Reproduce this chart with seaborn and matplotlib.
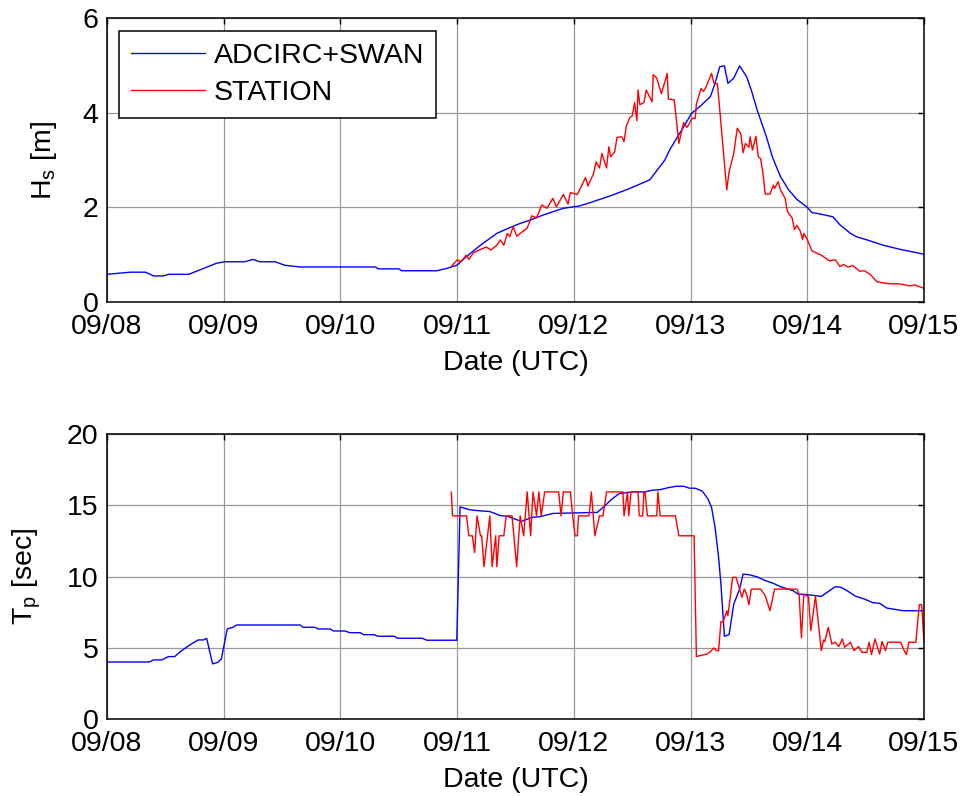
import matplotlib
matplotlib.use("Agg")
import matplotlib.pyplot as plt
import seaborn as sns

# Time axis: days since 09/08 00:00 UTC
date_labels = ["09/08", "09/09", "09/10", "09/11", "09/12", "09/13", "09/14", "09/15"]

# Significant wave height, ADCIRC+SWAN model
hs_model_day = [0.00, 0.20, 0.33, 0.40, 0.48, 0.53, 0.70, 0.94, 1.01, 1.18,
                1.25, 1.31, 1.44, 1.525, 1.65, 2.30, 2.325, 2.50, 2.525, 2.825,
                2.91, 3.00, 3.08, 3.20, 3.34, 3.45, 3.54, 3.625, 3.74, 3.91,
                4.05, 4.14, 4.31, 4.48, 4.65, 4.78, 4.82, 4.94, 5.01, 5.08,
                5.17, 5.21, 5.25, 5.29, 5.32, 5.37, 5.42, 5.48, 5.52, 5.57,
                5.65, 5.70, 5.77, 5.84, 5.91, 6.00, 6.04, 6.11, 6.22, 6.28,
                6.37, 6.42, 6.54, 6.65, 6.80, 7.00]
hs_model = [0.585, 0.63, 0.63, 0.55, 0.55, 0.585, 0.585, 0.82, 0.85, 0.85,
            0.90, 0.85, 0.85, 0.775, 0.74, 0.74, 0.70, 0.70, 0.66, 0.66,
            0.71, 0.78, 0.96, 1.20, 1.45, 1.57, 1.66, 1.73, 1.84, 1.98,
            2.03, 2.10, 2.24, 2.40, 2.58, 3.00, 3.21, 3.70, 3.99, 4.13,
            4.34, 4.62, 4.97, 4.99, 4.62, 4.73, 4.99, 4.76, 4.48, 4.06,
            3.49, 3.07, 2.65, 2.37, 2.17, 2.00, 1.89, 1.86, 1.80, 1.63,
            1.45, 1.38, 1.29, 1.20, 1.11, 1.01]

# Significant wave height, buoy station
hs_station_day = [2.95, 3.00, 3.03, 3.08, 3.10, 3.14, 3.20, 3.25, 3.29, 3.34,
                  3.37, 3.40, 3.43, 3.45, 3.48, 3.51, 3.60, 3.64, 3.68, 3.725,
                  3.77, 3.82, 3.85, 3.91, 3.95, 3.97, 4.03, 4.10, 4.12, 4.17,
                  4.19, 4.22, 4.24, 4.28, 4.30, 4.315, 4.35, 4.37, 4.41, 4.43,
                  4.45, 4.48, 4.50, 4.52, 4.54, 4.55, 4.565, 4.60, 4.62, 4.67,
                  4.68, 4.71, 4.75, 4.80, 4.81, 4.86, 4.90, 4.94, 4.97, 4.99,
                  5.01, 5.04, 5.05, 5.09, 5.11, 5.13, 5.18, 5.20, 5.23, 5.25,
                  5.31, 5.33, 5.37, 5.40, 5.43, 5.45, 5.47, 5.50, 5.51, 5.53,
                  5.56, 5.58, 5.60, 5.62, 5.64, 5.68, 5.71, 5.72, 5.75, 5.77,
                  5.81, 5.83, 5.87, 5.89, 5.91, 5.94, 5.96, 5.97, 6.00, 6.04,
                  6.12, 6.19, 6.24, 6.28, 6.31, 6.35, 6.39, 6.45, 6.49, 6.54,
                  6.595, 6.68, 6.80, 6.88, 6.92, 7.00]
hs_station = [0.75, 0.89, 0.85, 0.99, 0.90, 1.04, 1.11, 1.16, 1.10, 1.20,
              1.31, 1.20, 1.45, 1.38, 1.59, 1.39, 1.56, 1.82, 1.78, 2.05,
              1.98, 2.19, 2.01, 2.27, 2.07, 2.31, 2.27, 2.63, 2.45, 2.72,
              2.96, 2.83, 3.14, 2.83, 3.28, 3.07, 3.17, 3.48, 3.49, 3.39,
              3.72, 3.90, 3.93, 4.21, 3.83, 4.48, 4.17, 4.21, 4.48, 4.23,
              4.80, 4.73, 4.40, 4.83, 4.29, 4.27, 3.35, 3.79, 3.69, 3.77,
              3.88, 3.88, 4.19, 4.51, 4.45, 4.53, 4.83, 4.62, 4.61, 4.06,
              2.37, 2.75, 3.14, 3.67, 3.56, 3.15, 3.35, 3.27, 3.49, 3.21,
              3.50, 3.07, 3.03, 2.72, 2.28, 2.28, 2.47, 2.40, 2.54, 2.37,
              2.19, 1.91, 1.78, 1.53, 1.62, 1.50, 1.32, 1.45, 1.32, 1.08,
              0.99, 0.87, 0.89, 0.75, 0.79, 0.74, 0.77, 0.65, 0.66, 0.58,
              0.43, 0.39, 0.38, 0.34, 0.36, 0.29]

# Peak wave period, ADCIRC+SWAN model
tp_model_day = [0.00, 0.36, 0.40, 0.47, 0.525, 0.58, 0.625, 0.71, 0.78, 0.825,
                0.854, 0.905, 0.95, 0.98, 1.03, 1.08, 1.11, 1.655, 1.68, 1.78,
                1.81, 1.91, 1.94, 2.04, 2.08, 2.17, 2.20, 2.29, 2.32, 2.46,
                2.49, 2.70, 2.74, 2.997, 3.025, 3.11, 3.20, 3.28, 3.37, 3.43,
                3.55, 3.64, 3.71, 3.82, 4.20, 4.25, 4.325, 4.39, 4.44, 4.50,
                4.61, 4.67, 4.74, 4.81, 4.88, 4.94, 4.99, 5.04, 5.10, 5.15,
                5.18, 5.21, 5.24, 5.26, 5.29, 5.33, 5.37, 5.42, 5.45, 5.50,
                5.57, 5.63, 5.71, 5.77, 5.88, 5.92, 6.00, 6.12, 6.17, 6.24,
                6.29, 6.35, 6.41, 6.49, 6.56, 6.62, 6.68, 6.82, 7.00]
tp_model = [4.00, 4.00, 4.15, 4.15, 4.38, 4.38, 4.71, 5.20, 5.55, 5.55,
            5.66, 3.87, 3.98, 4.22, 6.32, 6.44, 6.60, 6.60, 6.44, 6.44,
            6.32, 6.32, 6.18, 6.18, 6.06, 6.06, 5.92, 5.92, 5.81, 5.81,
            5.67, 5.67, 5.53, 5.53, 14.89, 14.68, 14.61, 14.56, 14.28, 14.23,
            13.87, 14.15, 14.20, 14.43, 14.50, 14.85, 15.43, 15.83, 15.87, 15.94,
            15.94, 16.06, 16.10, 16.24, 16.34, 16.34, 16.20, 16.20, 16.00, 15.43,
            14.85, 13.45, 11.35, 9.48, 5.81, 5.92, 8.07, 9.12, 10.17, 10.13,
            9.98, 9.75, 9.52, 9.29, 9.00, 8.77, 8.73, 8.61, 8.89, 9.29,
            9.24, 8.96, 8.63, 8.42, 8.17, 8.12, 7.79, 7.60, 7.60]

# Peak wave period, buoy station
tp_station_day = [2.95, 2.96, 3.08, 3.10, 3.13, 3.15, 3.17, 3.20, 3.21, 3.23,
                  3.28, 3.30, 3.33, 3.34, 3.36, 3.40, 3.42, 3.47, 3.51, 3.54,
                  3.57, 3.60, 3.63, 3.65, 3.68, 3.70, 3.72, 3.75, 3.87, 3.89,
                  3.91, 3.97, 3.99, 4.01, 4.03, 4.04, 4.13, 4.15, 4.18, 4.22,
                  4.25, 4.28, 4.42, 4.43, 4.46, 4.47, 4.49, 4.55, 4.56, 4.59,
                  4.60, 4.61, 4.63, 4.71, 4.72, 4.74, 4.87, 4.90, 5.03, 5.05,
                  5.08, 5.14, 5.17, 5.20, 5.22, 5.24, 5.26, 5.28, 5.31, 5.32,
                  5.34, 5.36, 5.39, 5.42, 5.44, 5.46, 5.48, 5.50, 5.52, 5.60,
                  5.64, 5.68, 5.72, 5.91, 5.93, 5.95, 5.97, 5.99, 6.01, 6.03,
                  6.07, 6.09, 6.12, 6.14, 6.15, 6.18, 6.21, 6.24, 6.27, 6.30,
                  6.32, 6.37, 6.40, 6.44, 6.47, 6.51, 6.53, 6.55, 6.58, 6.62,
                  6.64, 6.67, 6.69, 6.80, 6.83, 6.85, 6.87, 6.93, 6.96, 6.98,
                  7.00]
tp_station = [15.94, 14.26, 14.26, 12.86, 12.86, 11.69, 14.26, 12.86, 12.86, 10.69,
              14.26, 10.69, 12.86, 10.69, 12.86, 12.86, 14.26, 14.26, 10.69, 14.26,
              12.86, 15.94, 12.86, 15.94, 14.26, 15.94, 14.26, 15.94, 15.94, 14.26,
              15.94, 15.94, 14.26, 12.86, 12.86, 14.26, 14.26, 15.94, 12.86, 14.26,
              14.26, 15.94, 15.94, 14.26, 15.94, 14.26, 15.94, 15.94, 14.26, 14.26,
              15.94, 15.94, 14.26, 14.26, 15.94, 14.26, 14.26, 12.86, 12.86, 4.38,
              4.45, 4.56, 4.73, 4.99, 4.80, 4.80, 6.83, 6.83, 7.60, 7.25,
              8.54, 9.94, 9.94, 9.12, 8.54, 9.12, 8.77, 8.03, 9.12, 9.12,
              8.66, 7.60, 9.12, 9.12, 8.77, 5.69, 8.77, 8.66, 8.61, 6.20,
              8.61, 7.13, 4.80, 5.55, 5.44, 6.44, 5.27, 5.39, 5.09, 5.62,
              5.04, 5.39, 4.80, 5.09, 4.68, 4.68, 5.39, 4.52, 5.62, 4.56,
              5.44, 4.80, 5.39, 5.39, 4.80, 4.52, 5.39, 5.39, 8.03, 8.03,
              5.39]

sns.set_style("white")
plt.rcParams["font.family"] = ["Liberation Sans", "DejaVu Sans"]
plt.rcParams["mathtext.default"] = "regular"
plt.rcParams["text.color"] = "black"
plt.rcParams["axes.labelcolor"] = "black"
plt.rcParams["xtick.color"] = "black"
plt.rcParams["ytick.color"] = "black"

FS = 20.5
fig = plt.figure(figsize=(9.64, 7.96), dpi=100)
ax_hs = fig.add_axes([0.111, 0.6206, 0.8475, 0.3568])
ax_tp = fig.add_axes([0.111, 0.0967, 0.8475, 0.358])

sns.lineplot(x=hs_model_day, y=hs_model, ax=ax_hs, color="#0000ff", lw=1.0,
             sort=False, estimator=None, label="ADCIRC+SWAN")
sns.lineplot(x=hs_station_day, y=hs_station, ax=ax_hs, color="#ff0000", lw=1.0,
             sort=False, estimator=None, label="STATION")
sns.lineplot(x=tp_model_day, y=tp_model, ax=ax_tp, color="#0000ff", lw=1.0,
             sort=False, estimator=None, legend=False)
sns.lineplot(x=tp_station_day, y=tp_station, ax=ax_tp, color="#ff0000", lw=1.0,
             sort=False, estimator=None, legend=False)

for ax, ylim, yticks, ylabel in [
    (ax_hs, (0, 6), [0, 2, 4, 6], r"H$_{s}$ [m]"),
    (ax_tp, (0, 20), [0, 5, 10, 15, 20], r"T$_{p}$ [sec]"),
]:
    ax.set_xlim(0, 7)
    ax.set_ylim(*ylim)
    ax.set_xticks(range(len(date_labels)))
    ax.set_xticklabels(date_labels)
    ax.set_yticks(yticks)
    ax.set_xlabel("Date (UTC)", fontsize=FS, labelpad=7)
    ax.set_ylabel(ylabel, fontsize=FS, labelpad=17)
    ax.grid(True, color="#999999", lw=0.9)
    ax.set_axisbelow(True)
    ax.tick_params(direction="in", length=4, width=1, top=True, right=True,
                   labelsize=FS, colors="black")
    ax.tick_params(axis="x", pad=8.5)
    ax.tick_params(axis="y", pad=6)
    for sp in ax.spines.values():
        sp.set_visible(True)
        sp.set_color("black")
        sp.set_linewidth(1.1)

leg = ax_hs.legend(loc="upper left", bbox_to_anchor=(0.0147, 0.954),
                   borderaxespad=0, fontsize=FS, handlelength=2.6,
                   handletextpad=0.3, labelspacing=0.4, borderpad=0.42,
                   fancybox=False, framealpha=1, edgecolor="black")
leg.get_frame().set_linewidth(1.1)

fig.savefig("out.png", dpi=100)
